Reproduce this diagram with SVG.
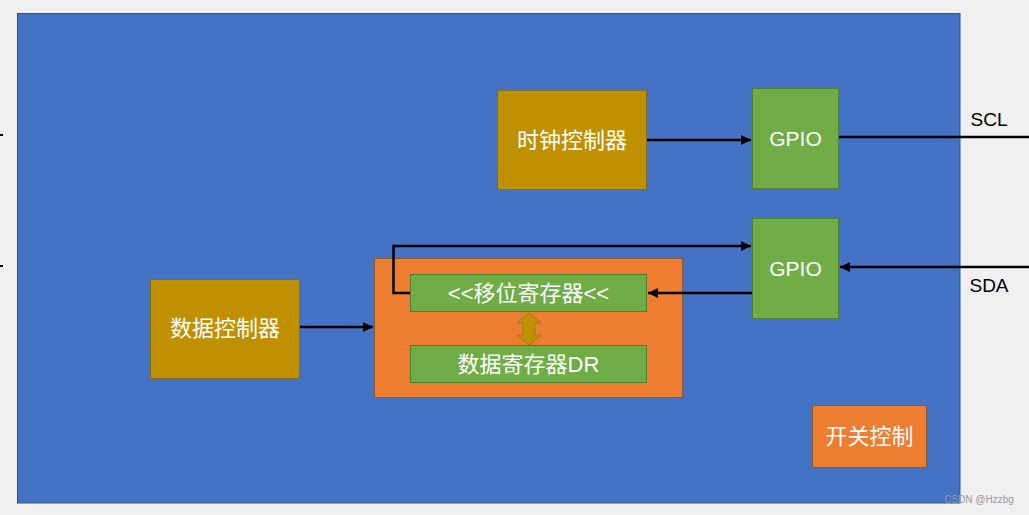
<svg xmlns="http://www.w3.org/2000/svg" width="1029" height="515" viewBox="0 0 1029 515">
<defs>
<style>
.lbl{font-family:"Liberation Sans","Noto Sans CJK SC",sans-serif;fill:#ffffff;text-anchor:middle;dominant-baseline:central}
.ext{font-family:"Liberation Sans","Noto Sans CJK SC",sans-serif;fill:#000000;font-size:19px;text-anchor:middle;dominant-baseline:central}
.gold{fill:#bf9000;stroke:#7f6a2a;stroke-width:1}
.green{fill:#70ad47;stroke:#507e32;stroke-width:1}
.orange{fill:#ed7d31;stroke:#8a5a33;stroke-width:1}
.wire{fill:none;stroke:#000000;stroke-width:2.5}
</style>
<marker id="ah" viewBox="0 0 10 10" refX="10" refY="5" markerWidth="4" markerHeight="4" orient="auto" markerUnits="strokeWidth">
<path d="M0,0 L10,5 L0,10 z" fill="#000000"/>
</marker>
</defs>
<rect x="0" y="0" width="1029" height="515" fill="#f0f0f0"/>
<g id="chip">
<rect x="17.5" y="13.5" width="942.5" height="489.5" fill="#4472c4" stroke="#2f528f" stroke-width="1"/>
</g>
<g id="ticks">
<line x1="0" y1="135" x2="3" y2="135" stroke="#000" stroke-width="2"/>
<line x1="0" y1="266" x2="3" y2="266" stroke="#000" stroke-width="2"/>
</g>
<g id="clock-ctrl">
<rect class="gold" x="497.5" y="90.5" width="149" height="99"/>
<text class="lbl" x="572" y="140" font-size="22">时钟控制器</text>
</g>
<g id="gpio-scl">
<rect class="green" x="752.5" y="88.5" width="86" height="100"/>
<text class="lbl" x="795.5" y="138" font-size="21">GPIO</text>
</g>
<g id="gpio-sda">
<rect class="green" x="752.5" y="218.5" width="86" height="100"/>
<text class="lbl" x="795.5" y="268" font-size="21">GPIO</text>
</g>
<g id="data-unit">
<rect class="orange" x="374.5" y="258.5" width="308" height="139"/>
</g>
<g id="shift-reg">
<rect class="green" x="410.5" y="274.5" width="236" height="37"/>
<text class="lbl" x="528.5" y="293" font-size="22">&lt;&lt;移位寄存器&lt;&lt;</text>
</g>
<g id="data-reg">
<rect class="green" x="410.5" y="345.5" width="236" height="37"/>
<text class="lbl" x="528.5" y="364" font-size="22">数据寄存器DR</text>
</g>
<g id="data-ctrl">
<rect class="gold" x="150.5" y="279.5" width="149" height="99"/>
<text class="lbl" x="225" y="328" font-size="22">数据控制器</text>
</g>
<g id="switch-ctrl">
<rect class="orange" x="812.5" y="405.5" width="114" height="62"/>
<text class="lbl" x="869.5" y="436" font-size="22">开关控制</text>
</g>
<g id="connectors">
<line class="wire" x1="647" y1="140" x2="751" y2="140" marker-end="url(#ah)"/>
<line class="wire" x1="839" y1="137" x2="1029" y2="137"/>
<line class="wire" x1="1029" y1="267" x2="840" y2="267" marker-end="url(#ah)"/>
<line class="wire" x1="752" y1="293" x2="648" y2="293" marker-end="url(#ah)"/>
<polyline class="wire" points="410,293 393.5,293 393.5,246 751,246" marker-end="url(#ah)"/>
<line class="wire" x1="300" y1="327" x2="373" y2="327" marker-end="url(#ah)"/>
<path d="M529,313 L541,323 L535,323 L535,335 L541,335 L529,345 L517,335 L523,335 L523,323 L517,323 Z" fill="#bf9000" stroke="#9c7a1f" stroke-width="1"/>
</g>
<g id="ext-labels">
<text class="ext" x="989" y="119">SCL</text>
<text class="ext" x="989" y="285">SDA</text>
</g>
<text x="979" y="499" font-family="Liberation Sans, sans-serif" font-size="10" fill="#999999" text-anchor="middle" dominant-baseline="central">CSDN @Hzzbg</text>
</svg>
